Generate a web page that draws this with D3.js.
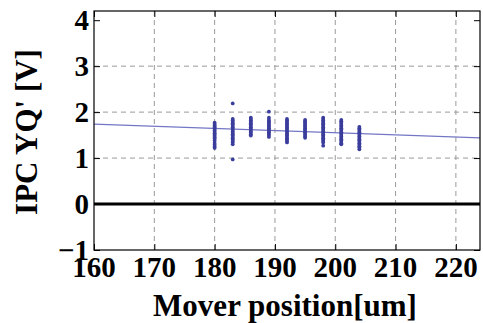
<!DOCTYPE html>
<html>
<head>
<meta charset="utf-8">
<script src="https://cdn.jsdelivr.net/npm/d3@7"></script>
<style>
  body { margin: 0; background: #fff; }
</style>
</head>
<body>
<div id="plot_area"></div>
<script>
const margin = { top: 11, right: 3, bottom: 73, left: 94 },
   svgWidth = 483,
   svgHeight = 323,
   chartWidth = svgWidth - margin.left - margin.right,
   chartHeight = svgHeight - margin.top - margin.bottom

const serif = '"Liberation Serif", "Times New Roman", Times, serif'

// mover positions of each measurement group [um]
const positions = [180, 183, 186, 189, 192, 195, 198, 201, 204]

// IPC YQ' readings [V], one list per mover position
const readings = [
  [1.77, 1.74, 1.71, 1.68, 1.66, 1.63, 1.60, 1.57, 1.54, 1.51, 1.48, 1.45, 1.42, 1.38, 1.33, 1.29, 1.25, 1.22],
  [2.19, 1.85, 1.82, 1.79, 1.76, 1.73, 1.70, 1.67, 1.64, 1.61, 1.58, 1.55, 1.52, 1.49, 1.46, 1.43, 1.40, 1.37, 1.34, 1.30, 0.97],
  [1.88, 1.85, 1.82, 1.79, 1.76, 1.73, 1.70, 1.67, 1.64, 1.61, 1.58, 1.55, 1.52, 1.49],
  [2.01, 1.88, 1.83, 1.80, 1.77, 1.74, 1.71, 1.68, 1.65, 1.62, 1.59, 1.56, 1.53, 1.50, 1.46],
  [1.85, 1.82, 1.79, 1.76, 1.73, 1.70, 1.67, 1.64, 1.61, 1.58, 1.55, 1.52, 1.49, 1.46, 1.43, 1.40, 1.37, 1.34],
  [1.83, 1.80, 1.77, 1.74, 1.71, 1.68, 1.65, 1.62, 1.59, 1.56, 1.53, 1.50, 1.47, 1.44],
  [1.88, 1.85, 1.82, 1.79, 1.76, 1.73, 1.70, 1.67, 1.64, 1.61, 1.58, 1.55, 1.52, 1.49, 1.46, 1.43, 1.40, 1.37, 1.34, 1.27],
  [1.83, 1.80, 1.77, 1.74, 1.71, 1.68, 1.65, 1.62, 1.59, 1.56, 1.53, 1.50, 1.47, 1.44, 1.41, 1.38, 1.35, 1.32, 1.30],
  [1.68, 1.65, 1.62, 1.59, 1.56, 1.53, 1.50, 1.47, 1.44, 1.41, 1.38, 1.35, 1.32, 1.29, 1.26, 1.23, 1.19]
]

// linear fit end points [um, V]
const fitLine = [[160, 1.74], [224, 1.44]]

const xTicks = [160, 170, 180, 190, 200, 210, 220]
const yTicks = [-1, 0, 1, 2, 3, 4]

const svg = d3.select('#plot_area').append('svg')
    .attr('width', svgWidth)
    .attr('height', svgHeight)

let chartGroup = svg.append('g')
    .attr('transform', `translate(${margin.left}, ${margin.top})`)

let x = d3.scaleLinear().domain([160, 224]).range([0, chartWidth])
let y = d3.scaleLinear().domain([-1, 4.2]).range([chartHeight, 0])

svg.append('defs').append('clipPath').attr('id', 'frame')
  .append('rect').attr('width', chartWidth).attr('height', chartHeight)

// dashed grid
let grid = chartGroup.append('g')
    .attr('stroke', '#9a9a9a')
    .attr('stroke-width', 1)
    .attr('stroke-dasharray', '5,4')
grid.selectAll('line.gx')
  .data(xTicks.filter(t => t > 160))
  .enter().append('line')
    .attr('x1', d => x(d)).attr('x2', d => x(d))
    .attr('y1', 0).attr('y2', chartHeight)
grid.selectAll('line.gy')
  .data([1, 2, 3])
  .enter().append('line')
    .attr('x1', 0).attr('x2', chartWidth)
    .attr('y1', d => y(d)).attr('y2', d => y(d))

// zero line
chartGroup.append('line')
    .attr('x1', 0).attr('x2', chartWidth)
    .attr('y1', y(0)).attr('y2', y(0))
    .attr('stroke', '#000')
    .attr('stroke-width', 3)

let plot = chartGroup.append('g').attr('clip-path', 'url(#frame)')

// fit line
plot.append('path')
    .datum(fitLine)
    .attr('d', d3.line().x(d => x(d[0])).y(d => y(d[1])))
    .attr('fill', 'none')
    .attr('stroke', '#7376c4')
    .attr('stroke-width', 1.3)

// points
let points = positions.flatMap((p, i) => readings[i].map(v => ({ p: p, v: v })))
plot.append('g')
  .selectAll('circle')
  .data(points)
  .enter().append('circle')
    .attr('cx', d => x(d.p))
    .attr('cy', d => y(d.v))
    .attr('r', 1.9)
    .attr('fill', '#3b3d9c')

// frame with inward ticks on all sides (major + minor)
let minorX = d3.range(160, 225, 2)
let minorY = d3.range(-1, 4.21, 0.2)

let axes = [
  { axis: d3.axisBottom(x), pos: `translate(0, ${chartHeight})` },
  { axis: d3.axisTop(x), pos: 'translate(0, 0)' },
  { axis: d3.axisLeft(y), pos: 'translate(0, 0)', isY: true },
  { axis: d3.axisRight(y), pos: `translate(${chartWidth}, 0)`, isY: true },
]
axes.forEach(a => {
  let g = chartGroup.append('g').attr('transform', a.pos)
  g.call(a.axis.tickValues(a.isY ? minorY : minorX).tickSize(-3.5).tickFormat('').tickSizeOuter(0))
  g.call(a.axis.tickValues(a.isY ? yTicks : xTicks).tickSize(-6).tickFormat('').tickSizeOuter(0))
  g.selectAll('.domain').remove()
  g.selectAll('line').attr('stroke', '#000')
})

chartGroup.append('rect')
    .attr('width', chartWidth)
    .attr('height', chartHeight)
    .attr('fill', 'none')
    .attr('stroke', '#000')
    .attr('stroke-width', 1.2)

// tick labels
chartGroup.append('g')
  .selectAll('text')
  .data(xTicks)
  .enter().append('text')
    .attr('x', d => x(d))
    .attr('y', chartHeight + 27)
    .attr('text-anchor', 'middle')
    .attr('font-family', serif)
    .attr('font-weight', 'bold')
    .attr('font-size', 29)
    .text(d => d)

chartGroup.append('g')
  .selectAll('text')
  .data(yTicks)
  .enter().append('text')
    .attr('x', -5)
    .attr('y', d => y(d) + 9.5)
    .attr('text-anchor', 'end')
    .attr('font-family', serif)
    .attr('font-weight', 'bold')
    .attr('font-size', 29)
    .text(d => d < 0 ? '\u2212' + Math.abs(d) : d)

// axis titles
svg.append('text')
    .attr('x', 285)
    .attr('y', 316)
    .attr('text-anchor', 'middle')
    .attr('font-family', serif)
    .attr('font-weight', 'bold')
    .attr('font-size', 31)
    .text('Mover position[um]')

svg.append('text')
    .attr('transform', 'translate(37, 132) rotate(-90)')
    .attr('text-anchor', 'middle')
    .attr('font-family', serif)
    .attr('font-weight', 'bold')
    .attr('font-size', 31)
    .text("IPC YQ' [V]")
</script>
</body>
</html>
